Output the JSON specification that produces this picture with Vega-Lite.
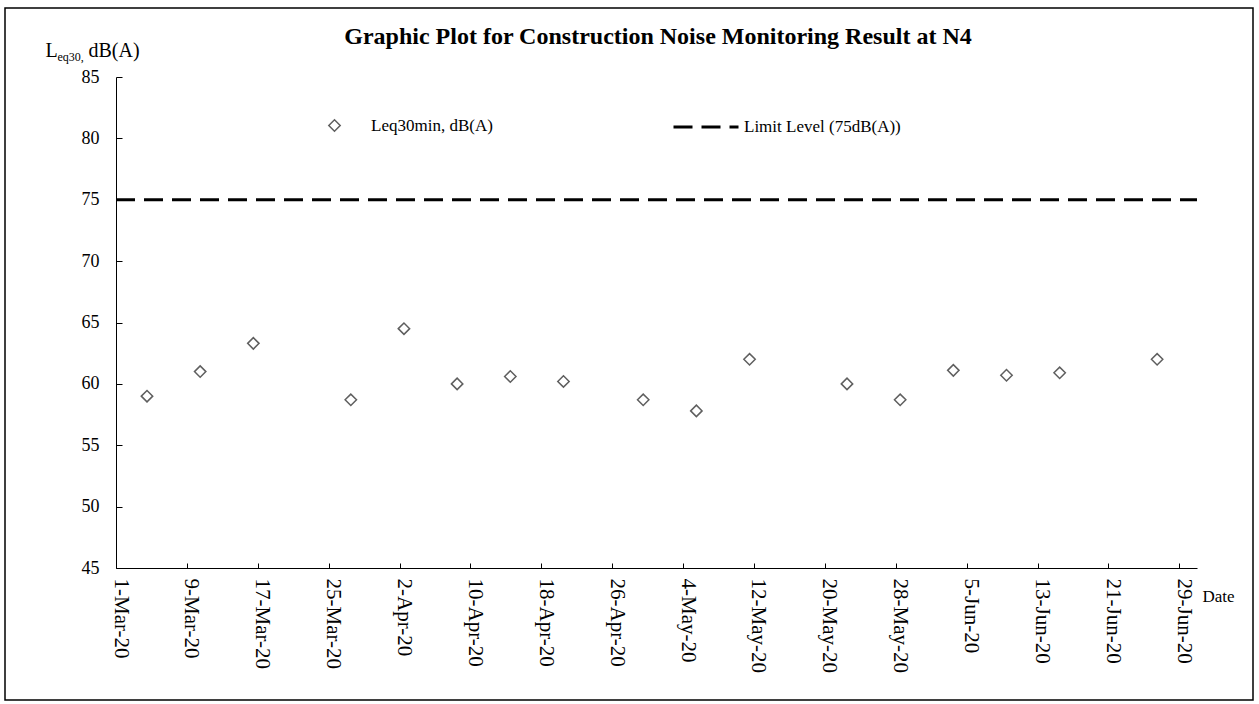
{
  "$schema": "https://vega.github.io/schema/vega-lite/v6.json",
  "width": 1248,
  "height": 692,
  "autosize": {"type": "none"},
  "padding": {"left": 5, "top": 8, "right": 6, "bottom": 4},
  "background": "white",
  "config": {
    "view": {"stroke": "black", "strokeWidth": 1.5},
    "font": "Liberation Serif",
    "axis": {
      "labelFont": "Liberation Serif",
      "titleFont": "Liberation Serif",
      "labelColor": "black",
      "titleColor": "black",
      "domainColor": "black",
      "tickColor": "black",
      "grid": false,
      "titleFontWeight": "normal"
    }
  },
  "title": {
    "text": "Graphic Plot for Construction Noise Monitoring Result at N4",
    "font": "Liberation Serif",
    "fontSize": 24,
    "fontWeight": "bold",
    "color": "black",
    "anchor": "middle",
    "frame": "group",
    "offset": -41,
    "dx": 29
  },
  "resolve": {"scale": {"y": "independent", "x": "independent"}},
  "layer": [
    {
      "data": {
        "values": [
          {"date": "2020-03-04T12:00:00Z", "level": 59.0, "series": "Leq30min, dB(A)"},
          {"date": "2020-03-10T12:00:00Z", "level": 61.0, "series": "Leq30min, dB(A)"},
          {"date": "2020-03-16T12:00:00Z", "level": 63.3, "series": "Leq30min, dB(A)"},
          {"date": "2020-03-27T12:00:00Z", "level": 58.7, "series": "Leq30min, dB(A)"},
          {"date": "2020-04-02T12:00:00Z", "level": 64.5, "series": "Leq30min, dB(A)"},
          {"date": "2020-04-08T12:00:00Z", "level": 60.0, "series": "Leq30min, dB(A)"},
          {"date": "2020-04-14T12:00:00Z", "level": 60.6, "series": "Leq30min, dB(A)"},
          {"date": "2020-04-20T12:00:00Z", "level": 60.2, "series": "Leq30min, dB(A)"},
          {"date": "2020-04-29T12:00:00Z", "level": 58.7, "series": "Leq30min, dB(A)"},
          {"date": "2020-05-05T12:00:00Z", "level": 57.8, "series": "Leq30min, dB(A)"},
          {"date": "2020-05-11T12:00:00Z", "level": 62.0, "series": "Leq30min, dB(A)"},
          {"date": "2020-05-22T12:00:00Z", "level": 60.0, "series": "Leq30min, dB(A)"},
          {"date": "2020-05-28T12:00:00Z", "level": 58.7, "series": "Leq30min, dB(A)"},
          {"date": "2020-06-03T12:00:00Z", "level": 61.1, "series": "Leq30min, dB(A)"},
          {"date": "2020-06-09T12:00:00Z", "level": 60.7, "series": "Leq30min, dB(A)"},
          {"date": "2020-06-15T12:00:00Z", "level": 60.9, "series": "Leq30min, dB(A)"},
          {"date": "2020-06-26T12:00:00Z", "level": 62.0, "series": "Leq30min, dB(A)"}
        ]
      },
      "mark": {"type": "point", "filled": false, "stroke": "#5f5f5f", "strokeWidth": 1.5, "size": 130, "opacity": 1},
      "encoding": {
        "x": {
          "field": "date",
          "type": "temporal",
          "scale": {
            "type": "utc",
            "domain": [
              {"year": 2020, "month": 3, "date": 1, "utc": true},
              {"year": 2020, "month": 7, "date": 1, "utc": true}
            ],
            "range": [111, 1192]
          },
          "axis": {
            "orient": "bottom",
            "values": [
              {"year": 2020, "month": 3, "date": 1, "utc": true},
              {"year": 2020, "month": 3, "date": 9, "utc": true},
              {"year": 2020, "month": 3, "date": 17, "utc": true},
              {"year": 2020, "month": 3, "date": 25, "utc": true},
              {"year": 2020, "month": 4, "date": 2, "utc": true},
              {"year": 2020, "month": 4, "date": 10, "utc": true},
              {"year": 2020, "month": 4, "date": 18, "utc": true},
              {"year": 2020, "month": 4, "date": 26, "utc": true},
              {"year": 2020, "month": 5, "date": 4, "utc": true},
              {"year": 2020, "month": 5, "date": 12, "utc": true},
              {"year": 2020, "month": 5, "date": 20, "utc": true},
              {"year": 2020, "month": 5, "date": 28, "utc": true},
              {"year": 2020, "month": 6, "date": 5, "utc": true},
              {"year": 2020, "month": 6, "date": 13, "utc": true},
              {"year": 2020, "month": 6, "date": 21, "utc": true},
              {"year": 2020, "month": 6, "date": 29, "utc": true}
            ],
            "format": "%-d-%b-%y",
            "labelAngle": 90,
            "labelAlign": "left",
            "labelBaseline": "middle",
            "labelFontSize": 21,
            "labelOffset": 4,
            "labelOverlap": false,
            "labelFlush": false,
            "tickSize": -5,
            "labelPadding": 15,
            "offset": -132,
            "domainWidth": 1,
            "title": "Date",
            "titleFontSize": 17,
            "titleX": 1213,
            "titleY": 28,
            "titleAlign": "center",
            "titleBaseline": "middle"
          }
        },
        "y": {
          "field": "level",
          "type": "quantitative",
          "scale": {"domain": [45, 85], "range": [560, 69], "nice": false, "zero": false},
          "axis": {
            "orient": "left",
            "values": [45, 50, 55, 60, 65, 70, 75, 80, 85],
            "offset": -111,
            "tickSize": -6,
            "labelPadding": 23,
            "labelFontSize": 18,
            "domainWidth": 1,
            "title": "L",
            "titleAngle": 0,
            "titleX": -71,
            "titleY": 48,
            "titleAlign": "left",
            "titleBaseline": "alphabetic",
            "titleFontSize": 20
          }
        },
        "shape": {
          "field": "series",
          "type": "nominal",
          "scale": {"range": ["diamond"]},
          "legend": {
            "title": null,
            "orient": "none",
            "legendX": 321,
            "legendY": 109,
            "padding": 0,
            "labelFont": "Liberation Serif",
            "labelFontSize": 17,
            "labelColor": "black",
            "labelOffset": 28,
            "labelLimit": 400,
            "symbolSize": 130,
            "symbolStrokeColor": "#5f5f5f",
            "symbolFillColor": "white",
            "symbolStrokeWidth": 1.5
          }
        }
      }
    },
    {
      "data": {
        "values": [
          {"start": "2020-03-01", "end": "2020-07-01", "limit": 75, "label": "Limit Level (75dB(A))"}
        ]
      },
      "mark": {"type": "rule", "color": "black", "strokeWidth": 3},
      "encoding": {
        "x": {
          "field": "start",
          "type": "temporal",
          "scale": {
            "type": "utc",
            "domain": [
              {"year": 2020, "month": 3, "date": 1, "utc": true},
              {"year": 2020, "month": 7, "date": 1, "utc": true}
            ],
            "range": [111, 1192]
          },
          "axis": {
            "orient": "top",
            "labels": false,
            "ticks": false,
            "domain": false,
            "grid": false,
            "title": "dB(A)",
            "titleX": 83,
            "titleY": 48,
            "titleAlign": "left",
            "titleBaseline": "alphabetic",
            "titleFontSize": 20
          }
        },
        "x2": {"field": "end"},
        "y": {
          "field": "limit",
          "type": "quantitative",
          "scale": {"domain": [45, 85], "range": [560, 69], "nice": false, "zero": false},
          "axis": {
            "orient": "left",
            "offset": -111,
            "labels": false,
            "ticks": false,
            "domain": false,
            "grid": false,
            "title": "eq30,",
            "titleAngle": 0,
            "titleX": -59,
            "titleY": 52,
            "titleAlign": "left",
            "titleBaseline": "alphabetic",
            "titleFontSize": 12
          }
        },
        "strokeDash": {
          "field": "label",
          "type": "nominal",
          "scale": {"range": [[19, 9]]},
          "legend": {
            "title": null,
            "orient": "none",
            "legendX": 667,
            "legendY": 85,
            "padding": 0,
            "labelFont": "Liberation Serif",
            "labelFontSize": 17,
            "labelColor": "black",
            "labelOffset": 4,
            "labelLimit": 400,
            "symbolType": "stroke",
            "symbolSize": 4225,
            "symbolStrokeWidth": 3,
            "symbolStrokeColor": "black"
          }
        }
      }
    }
  ]
}
